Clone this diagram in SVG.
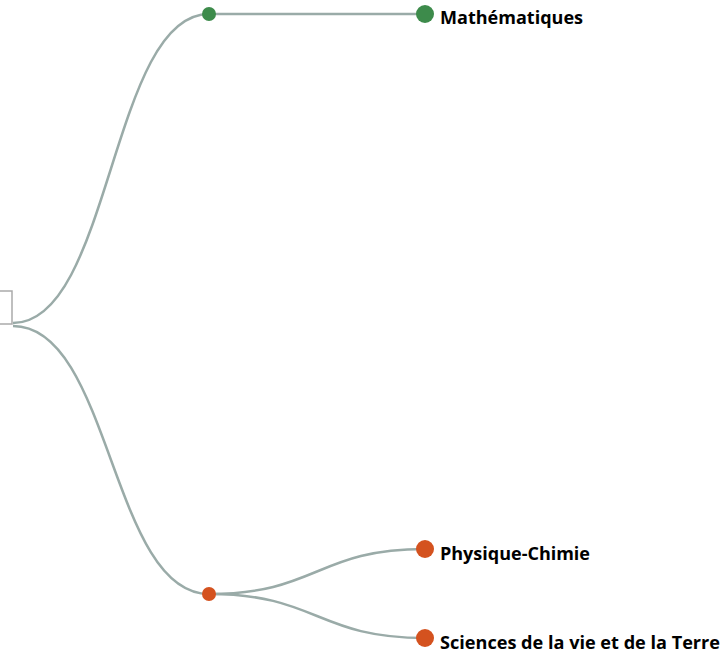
<svg xmlns="http://www.w3.org/2000/svg" width="723" height="656" viewBox="0 0 723 656">
<style>
.link{fill:none;stroke:#9aaba8;stroke-width:2.5}
.lbl{font-family:"Open Sans","Liberation Sans",sans-serif;font-weight:bold;font-size:18px;fill:#000}
.g{fill:#3d8b4b}
.o{fill:#d4521f}
</style>
<rect width="723" height="656" fill="#fff"/>
<g id="connectors">
<path class="link" d="M13,323 C111,323 111,14 209,14"/>
<path class="link" d="M13,326 C111,326 111,594 209,594"/>
<path class="link" d="M209,14 L425,14"/>
<path class="link" d="M209,594 C317,594 317,549 425,549"/>
<path class="link" d="M209,594 C317,594 317,638 425,638"/>
</g>
<g id="root"><rect x="-2" y="291" width="14" height="33" fill="#fff" stroke="#aaa" stroke-width="1.5"/></g>
<g id="n-math-mid"><circle class="g" cx="209" cy="14" r="7"/></g>
<g id="n-sci-mid"><circle class="o" cx="209" cy="594" r="7"/></g>
<g id="n-math"><circle class="g" cx="425" cy="14" r="9"/><text class="lbl" x="440" y="24" textLength="143" lengthAdjust="spacingAndGlyphs">Mathématiques</text></g>
<g id="n-pc"><circle class="o" cx="425" cy="549" r="9"/><text class="lbl" x="440" y="560" textLength="150" lengthAdjust="spacingAndGlyphs">Physique-Chimie</text></g>
<g id="n-svt"><circle class="o" cx="425" cy="638" r="9"/><text class="lbl" x="440" y="649" textLength="280" lengthAdjust="spacingAndGlyphs">Sciences de la vie et de la Terre</text></g>
</svg>
